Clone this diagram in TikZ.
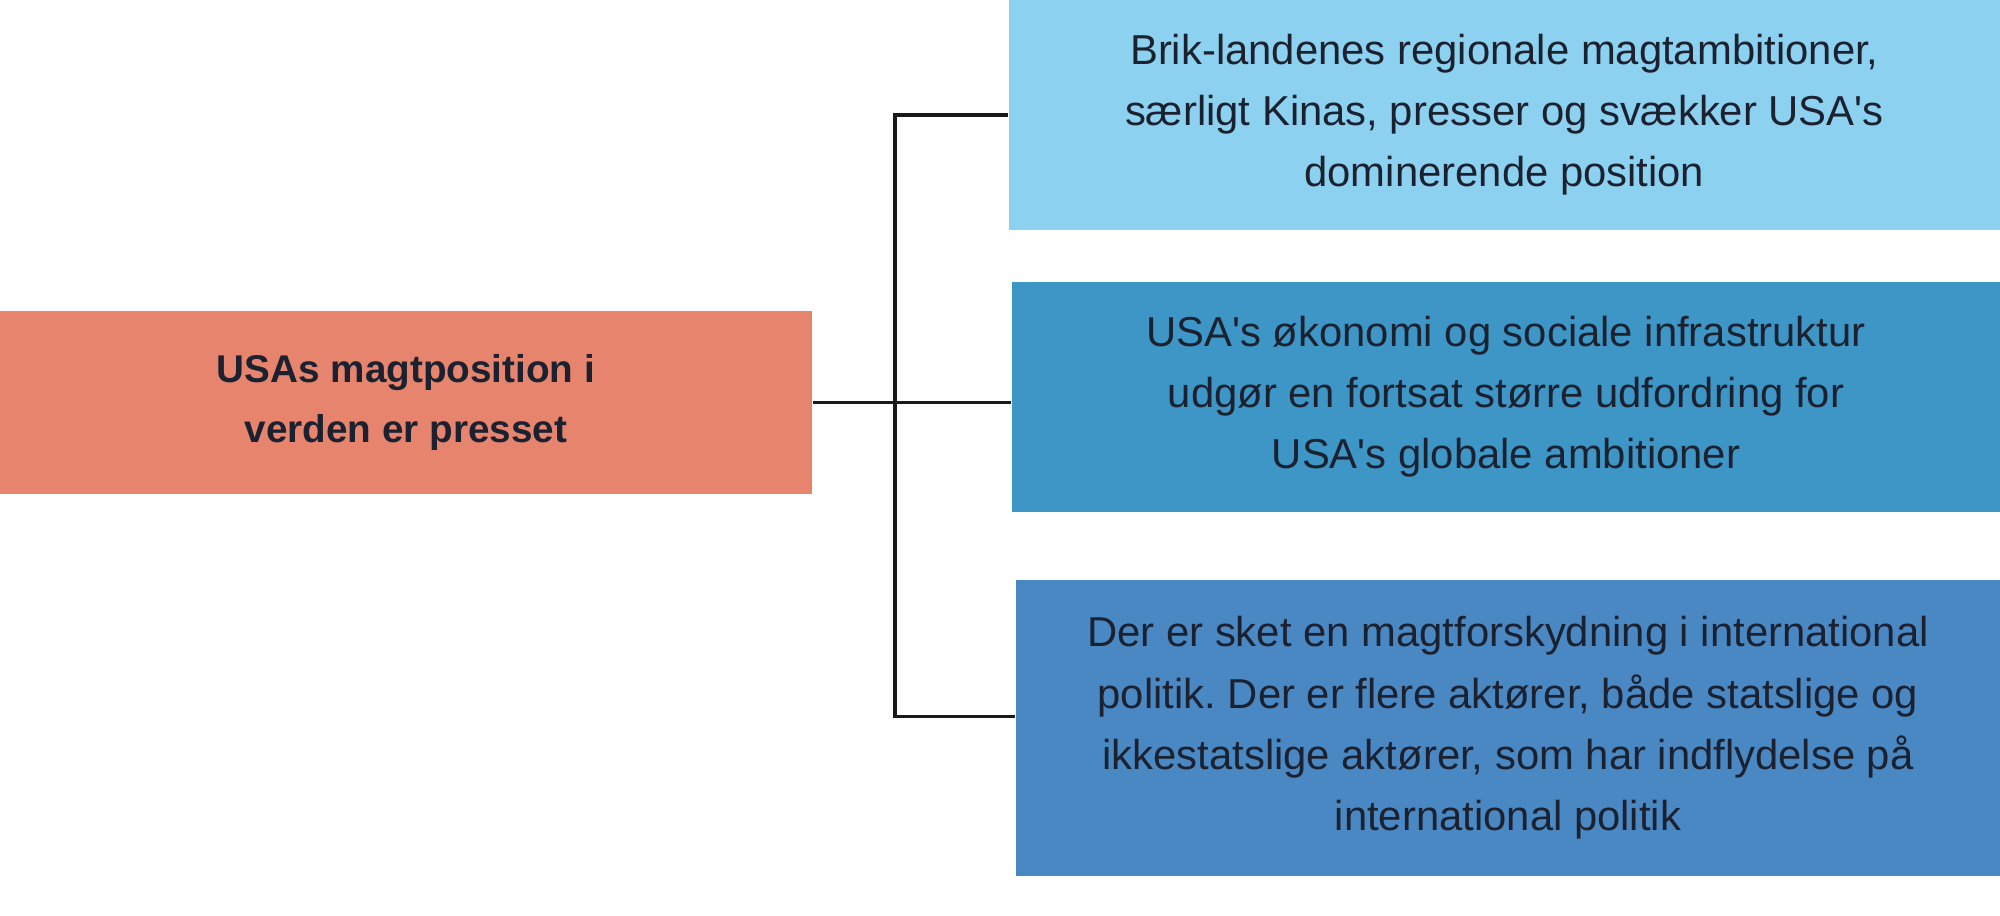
\documentclass[tikz,border=0pt]{standalone}
\usepackage{fontspec}
\setmainfont{Liberation Sans}
\usepackage{tikz}

\definecolor{salmon}{HTML}{E6846E}
\definecolor{skyblue}{HTML}{8DD1F0}
\definecolor{midblue}{HTML}{3D96C5}
\definecolor{deepblue}{HTML}{4A88C4}
\definecolor{inkdark}{HTML}{1C2130}

\begin{document}
\frenchspacing
\begin{tikzpicture}[
    box/.style={rectangle, inner sep=0pt, align=center, text=inkdark,
        font=\fontsize{11.9}{17.4}\selectfont},
    link/.style={draw=black!90, line width=0.9pt}
]
    \useasboundingbox (0,0) rectangle (20,-9.16);

    % Main claim (left)
    \node[box, fill=salmon, minimum width=8.12cm, minimum height=1.833cm,
        font=\fontsize{11}{17.2}\selectfont\bfseries] (main) at (4.06,-4.024)
        {USAs magtposition i\\verden er presset};

    % Reasons (right)
    \node[box, fill=skyblue, minimum width=9.913cm, minimum height=2.30cm] (brik) at (15.044,-1.15)
        {Brik-landenes regionale magtambitioner,\\s\ae rligt Kinas, presser og sv\ae kker USA\textquotesingle s\\dominerende position};
    \node[box, fill=midblue, minimum width=9.88cm, minimum height=2.306cm] (econ) at (15.06,-3.97)
        {USA\textquotesingle s \o konomi og sociale infrastruktur\\udg\o r en fortsat st\o rre udfordring for\\USA\textquotesingle s globale ambitioner};
    \node[box, fill=deepblue, minimum width=9.84cm, minimum height=2.957cm] (shift) at (15.08,-7.279)
        {Der er sket en magtforskydning i international\\politik. Der er flere akt\o rer, b\aa de statslige og\\ikkestatslige akt\o rer, som har indflydelse p\aa\\international politik};

    % Connectors
    \coordinate (bend) at (8.95,-7.167);
    \draw[link] (main.east) -- (main.east -| econ.west);
    \draw[link] (brik.west) -| (bend) -- (bend -| shift.west);
\end{tikzpicture}
\end{document}
